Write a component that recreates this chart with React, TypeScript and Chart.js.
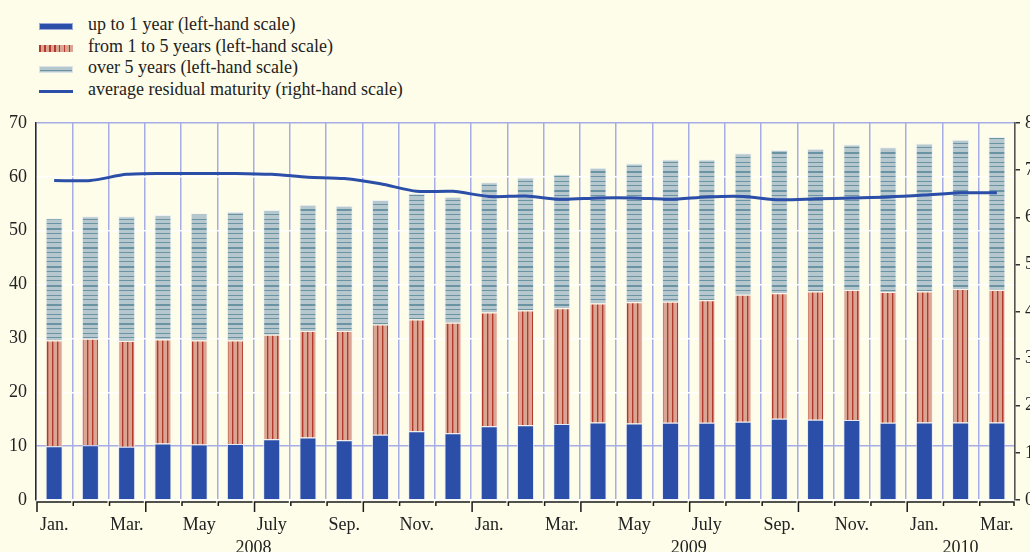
import React, { useEffect, useRef } from "react";
import { Chart, registerables } from "chart.js";

Chart.register(...registerables);

// ---------- data ----------
const monthLabels = [
  "Jan.", "Feb.", "Mar.", "Apr.", "May", "June", "July", "Aug.", "Sep.", "Oct.", "Nov.", "Dec.",
  "Jan.", "Feb.", "Mar.", "Apr.", "May", "June", "July", "Aug.", "Sep.", "Oct.", "Nov.", "Dec.",
  "Jan.", "Feb.", "Mar.",
];
const categoryYears = [
  "2008", "2008", "2008", "2008", "2008", "2008", "2008", "2008", "2008", "2008", "2008", "2008",
  "2009", "2009", "2009", "2009", "2009", "2009", "2009", "2009", "2009", "2009", "2009", "2009",
  "2010", "2010", "2010",
];
const yearLabels = ["2008", "2009", "2010"];

const upTo1Year = [
  10.0, 10.15, 9.9, 10.5, 10.3, 10.4, 11.3, 11.6, 11.1, 12.1, 12.75, 12.4,
  13.7, 13.9, 14.1, 14.4, 14.2, 14.35, 14.35, 14.55, 15.1, 14.9, 14.85, 14.35,
  14.4, 14.4, 14.4,
];
const from1To5Years = [
  19.6, 19.8, 19.6, 19.3, 19.3, 19.2, 19.4, 19.8, 20.3, 20.5, 20.75, 20.5,
  21.1, 21.3, 21.5, 22.1, 22.5, 22.45, 22.75, 23.55, 23.3, 23.8, 24.15, 24.25,
  24.3, 24.8, 24.6,
];
const over5Years = [
  22.7, 22.75, 23.2, 23.1, 23.6, 23.9, 23.15, 23.4, 23.25, 23.1, 23.4, 23.4,
  24.2, 24.7, 24.9, 25.2, 25.8, 26.4, 26.1, 26.3, 26.6, 26.5, 27.0, 26.9,
  27.5, 27.7, 28.4,
];
const avgResidualMaturity = [
  6.78, 6.78, 6.91, 6.93, 6.93, 6.93, 6.91, 6.85, 6.82, 6.71, 6.55, 6.55,
  6.44, 6.45, 6.38, 6.41, 6.41, 6.38, 6.43, 6.44, 6.37, 6.39, 6.41, 6.43,
  6.47, 6.52, 6.52,
];

const legendLabels = [
  "up to 1 year (left-hand scale)",
  "from 1 to 5 years (left-hand scale)",
  "over 5 years (left-hand scale)",
  "average residual maturity (right-hand scale)",
];

// ---------- styles ----------
const BG = "#FEFDE9";
const BLUE = "#2B4EA8";
const RED_LIGHT = "#DBA593";
const RED_DARK = "#B23A2C";
const GRAY_LIGHT = "#B7C7CE";
const GRAY_DARK = "#6A93A4";
const GRID_BLUE = "#A6ADE6";
const FONT = "'Liberation Serif', 'Times New Roman', serif";

function makeRedPattern(ctx: CanvasRenderingContext2D) {
  const c = document.createElement("canvas");
  c.width = 5;
  c.height = 4;
  const g = c.getContext("2d")!;
  g.fillStyle = RED_LIGHT;
  g.fillRect(0, 0, 5, 4);
  g.fillStyle = RED_DARK;
  g.fillRect(2, 0, 1, 4);
  g.globalAlpha = 0.35;
  g.fillRect(3, 0, 1, 4);
  return ctx.createPattern(c, "repeat")!;
}

function makeGrayPattern(ctx: CanvasRenderingContext2D) {
  const c = document.createElement("canvas");
  c.width = 4;
  c.height = 19;
  const g = c.getContext("2d")!;
  g.fillStyle = GRAY_LIGHT;
  g.fillRect(0, 0, 4, 19);
  g.fillStyle = GRAY_DARK;
  g.fillRect(0, 0, 4, 2);
  g.fillRect(0, 5, 4, 1);
  g.fillRect(0, 10, 4, 1);
  g.fillRect(0, 14, 4, 1);
  return ctx.createPattern(c, "repeat")!;
}

const axisDecor = {
  id: "axisDecor",
  afterDraw(chart: any) {
    const { ctx, chartArea } = chart;
    const x = chart.scales.x;
    const n = monthLabels.length;
    const step = x.getPixelForValue(1) - x.getPixelForValue(0);
    const yb = chartArea.bottom + 2;
    ctx.save();
    ctx.strokeStyle = "#1a1a1a";
    ctx.lineWidth = 1.5;
    for (let i = 0; i < n; i++) {
      const xl = x.getPixelForValue(i) - step / 2 + 1;
      const xr = x.getPixelForValue(i) + step / 2 - 1;
      const tick = i % 3 === 0 ? 10 : 4;
      ctx.beginPath();
      ctx.moveTo(xl, yb + tick);
      ctx.lineTo(xl, yb);
      ctx.lineTo(xr, yb);
      if (i === n - 1) ctx.lineTo(xr, yb + 4);
      ctx.stroke();
    }
    ctx.fillStyle = "#222";
    ctx.font = `18px ${FONT}`;
    ctx.textAlign = "center";
    ctx.textBaseline = "alphabetic";
    yearLabels.forEach((yr) => {
      const first = categoryYears.indexOf(yr);
      const last = categoryYears.lastIndexOf(yr);
      const cx = (x.getPixelForValue(first) + x.getPixelForValue(last)) / 2;
      ctx.fillText(yr, cx, 553);
    });
    ctx.restore();
  },
};

function Legend() {
  const tops = [24, 46, 67, 89];
  const swatches: React.CSSProperties[] = [
    { background: BLUE, height: 7, border: "1px solid #9AA8DA", boxSizing: "border-box" },
    {
      background: `repeating-linear-gradient(90deg, ${RED_DARK} 0px, ${RED_DARK} 1.5px, ${RED_LIGHT} 1.5px, ${RED_LIGHT} 5px)`,
      height: 7,
    },
    {
      background: `linear-gradient(to bottom, ${GRAY_LIGHT} 0px, ${GRAY_LIGHT} 3px, ${GRAY_DARK} 3px, ${GRAY_DARK} 4px, ${GRAY_LIGHT} 4px)`,
      height: 7,
      border: "1px solid #DCE4E8",
      boxSizing: "border-box",
    },
    { background: BLUE, height: 3 },
  ];
  return (
    <>
      {legendLabels.map((lbl, i) => (
        <React.Fragment key={i}>
          <div
            style={{
              position: "absolute",
              left: 39,
              width: 34,
              top: tops[i] + 2 - (swatches[i].height as number) / 2,
              ...swatches[i],
            }}
          />
          <div
            style={{
              position: "absolute",
              left: 88,
              top: tops[i] - 11,
              height: 22,
              lineHeight: "22px",
              fontFamily: FONT,
              fontSize: 18,
              color: "#222",
              whiteSpace: "nowrap",
            }}
          >
            {lbl}
          </div>
        </React.Fragment>
      ))}
    </>
  );
}

export default function App() {
  const canvasRef = useRef<HTMLCanvasElement | null>(null);

  useEffect(() => {
    const canvas = canvasRef.current!;
    const ctx = canvas.getContext("2d")!;
    const redPattern = makeRedPattern(ctx);
    const grayPattern = makeGrayPattern(ctx);

    const chart = new Chart(ctx, {
      type: "bar",
      data: {
        labels: monthLabels,
        datasets: [
          {
            type: "line",
            label: legendLabels[3],
            data: avgResidualMaturity,
            yAxisID: "y2",
            borderColor: BLUE,
            borderWidth: 3,
            pointRadius: 0,
            tension: 0.25,
            fill: false,
            order: 0,
          } as any,
          {
            label: legendLabels[0],
            data: upTo1Year,
            backgroundColor: BLUE,
            borderColor: "rgba(225,230,250,0.85)",
            borderWidth: 1,
            stack: "s",
            order: 1,
          },
          {
            label: legendLabels[1],
            data: from1To5Years,
            backgroundColor: redPattern,
            borderColor: "rgba(255,240,235,0.85)",
            borderWidth: 1,
            stack: "s",
            order: 1,
          },
          {
            label: legendLabels[2],
            data: over5Years,
            backgroundColor: grayPattern,
            borderColor: "rgba(235,242,246,0.9)",
            borderWidth: 1,
            stack: "s",
            order: 1,
          },
        ],
      },
      options: {
        responsive: false,
        animation: false,
        devicePixelRatio: 1,
        layout: { padding: { top: 123, left: 0, right: 0, bottom: 0 } },
        datasets: {
          bar: { categoryPercentage: 1, barPercentage: 0.47 },
        },
        plugins: {
          legend: { display: false },
          tooltip: { enabled: false },
        },
        scales: {
          x: {
            stacked: true,
            offset: true,
            grid: {
              offset: true,
              color: GRID_BLUE,
              lineWidth: 1.5,
              drawTicks: false,
            },
            border: { display: false },
            ticks: {
              autoSkip: false,
              maxRotation: 0,
              padding: 14,
              color: "#222",
              font: { family: FONT, size: 18 },
              callback: (_v: any, i: number) => (i % 2 === 0 ? monthLabels[i] : ""),
            },
            afterFit: (s: any) => {
              s.height = 52;
            },
          },
          y: {
            stacked: true,
            position: "left",
            min: 0,
            max: 70,
            ticks: {
              stepSize: 10,
              padding: 9,
              color: "#222",
              font: { family: FONT, size: 18 },
            },
            grid: {
              color: (c: any) =>
                c.tick && (c.tick.value === 10 || c.tick.value === 70) ? GRID_BLUE : "#FFFFFF",
              lineWidth: 1.5,
              drawTicks: false,
            },
            border: { display: true, color: "#2a2a2a", width: 1.5 },
            afterFit: (s: any) => {
              s.width = 36;
            },
          },
          y2: {
            position: "right",
            min: 0,
            max: 8,
            ticks: {
              stepSize: 1,
              padding: 5,
              color: "#222",
              font: { family: FONT, size: 18 },
            },
            grid: {
              drawOnChartArea: false,
              drawTicks: true,
              tickLength: 5,
              color: "#333",
              lineWidth: 1.5,
            },
            border: { display: true, color: "#555", width: 1.5 },
            afterFit: (s: any) => {
              s.width = 15;
            },
          },
        },
      },
      plugins: [axisDecor],
    });

    return () => chart.destroy();
  }, []);

  return (
    <div
      style={{
        position: "absolute",
        left: 0,
        top: 0,
        width: 1030,
        height: 552,
        background: BG,
        overflow: "hidden",
      }}
    >
      <Legend />
      <canvas
        ref={canvasRef}
        width={1030}
        height={552}
        style={{ position: "absolute", left: 0, top: 0, width: 1030, height: 552 }}
      />
    </div>
  );
}
